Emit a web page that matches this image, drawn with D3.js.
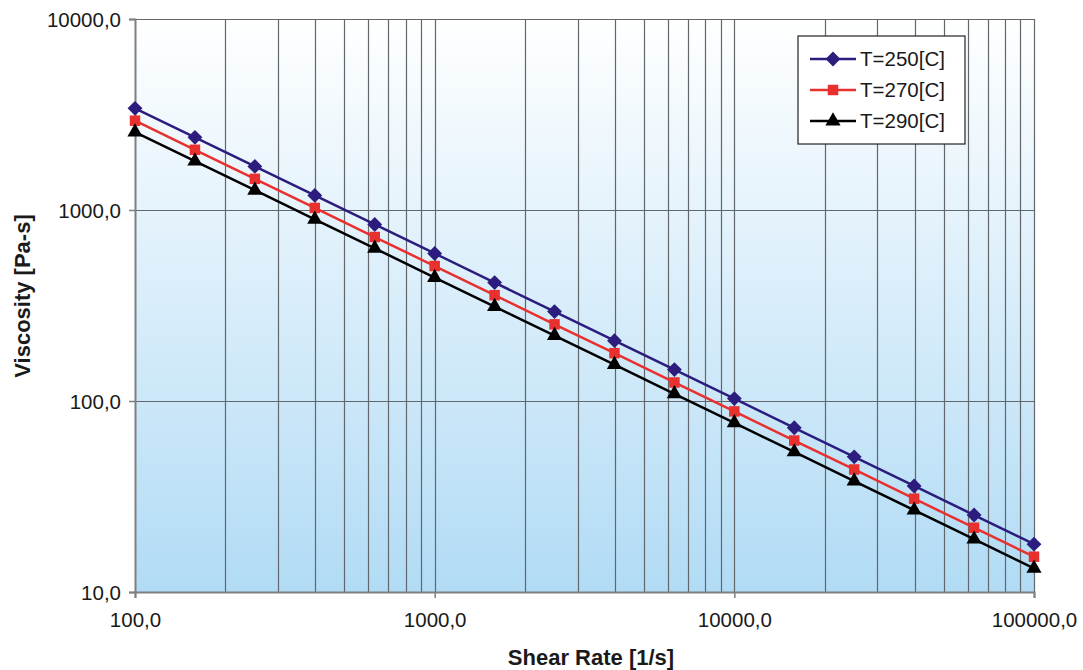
<!DOCTYPE html>
<html><head><meta charset="utf-8">
<script src="https://cdn.jsdelivr.net/npm/d3@7"></script>
<style>body{margin:0;background:#fff;}svg{display:block;font-family:Arial,"Liberation Sans",sans-serif;}</style>
</head><body>
<svg id="chart" width="1083" height="670"></svg>
<script>
const shearRates = [100, 158.5, 251.2, 398.1, 631.0, 1000, 1585, 2512, 3981, 6310, 10000, 15849, 25119, 39811, 63096, 100000];
const visc250 = [3408, 2401, 1692, 1192, 840, 592, 417, 294, 207, 146, 103, 72.4, 51.0, 35.9, 25.3, 17.8];
const visc270 = [2935, 2067, 1456, 1025, 722, 509, 358, 252, 178, 125, 88.2, 62.1, 43.8, 30.8, 21.7, 15.3];
const visc290 = [2559, 1802, 1269, 894, 630, 443, 312, 220, 155, 109, 76.8, 54.1, 38.1, 26.8, 18.9, 13.3];
const seriesNames = ["T=250[C]", "T=270[C]", "T=290[C]"];
const xTicks = [100, 1000, 10000, 100000];
const yTicks = [10, 100, 1000, 10000];
const xTitle = "Shear Rate [1/s]";
const yTitle = "Viscosity [Pa-s]";

const diamondWide = {
  draw(ctx, size) {
    const r = Math.sqrt(size / 2);
    ctx.moveTo(0, -r); ctx.lineTo(r, 0); ctx.lineTo(0, r); ctx.lineTo(-r, 0); ctx.closePath();
  }
};

const series = [
  {name: seriesNames[0], values: visc250, color: "#2b1c7e", symbol: diamondWide, size: 110},
  {name: seriesNames[1], values: visc270, color: "#e8302e", symbol: d3.symbolSquare, size: 110},
  {name: seriesNames[2], values: visc290, color: "#000000", symbol: d3.symbolTriangle, size: 100}
];

const svg = d3.select("#chart");
const L = 135, R = 1034, T = 19, B = 592;
const x = d3.scaleLog().domain([100, 100000]).range([L, R]);
const y = d3.scaleLog().domain([10, 10000]).range([B, T]);

const defs = svg.append("defs");
const grad = defs.append("linearGradient").attr("id", "bg").attr("x1", 0).attr("y1", 0).attr("x2", 0).attr("y2", 1);
grad.append("stop").attr("offset", "0%").attr("stop-color", "#ffffff");
grad.append("stop").attr("offset", "100%").attr("stop-color", "#b1dbf5");
svg.append("rect").attr("x", L).attr("y", T).attr("width", R - L).attr("height", B - T).attr("fill", "url(#bg)");

const xGrid = x.ticks().filter(v => v > 100);
svg.append("g").selectAll("line").data(xGrid).join("line")
  .attr("x1", d => Math.round(x(d)) + 0.5).attr("x2", d => Math.round(x(d)) + 0.5)
  .attr("y1", T).attr("y2", B)
  .attr("stroke", "#62676c").attr("stroke-width", 1.2);
svg.append("g").selectAll("line").data(yTicks.filter(v => v > 10)).join("line")
  .attr("x1", L).attr("x2", R)
  .attr("y1", d => Math.round(y(d)) + 0.5).attr("y2", d => Math.round(y(d)) + 0.5)
  .attr("stroke", "#62676c").attr("stroke-width", 1.2);

const fmt = v => d3.format(".1f")(v).replace(".", ",");

const xAxis = d3.axisBottom(x).tickValues(xTicks).tickFormat(fmt).tickSize(6).tickPadding(14);
const gx = svg.append("g").attr("transform", `translate(0,${B})`).call(xAxis);
const yAxis = d3.axisLeft(y).tickValues(yTicks).tickFormat(fmt).tickSize(6).tickPadding(8);
const gy = svg.append("g").attr("transform", `translate(${L},0)`).call(yAxis);
[gx, gy].forEach(g => {
  g.select(".domain").attr("stroke", "#7d7f82").attr("stroke-width", 2);
  g.selectAll(".tick line").attr("stroke", "#7d7f82").attr("stroke-width", 1.5);
  g.selectAll("text").attr("font-size", 20.5).attr("fill", "#1a1a1a").attr("font-family", "Arial, 'Liberation Sans', sans-serif");
});
gy.selectAll("text").attr("dy", "0.35em");

const line = d3.line().x((d, i) => x(shearRates[i])).y(d => y(d));
series.forEach(s => {
  svg.append("path").datum(s.values).attr("d", line)
    .attr("fill", "none").attr("stroke", s.color).attr("stroke-width", 2.5);
  svg.append("g").selectAll("path").data(s.values).join("path")
    .attr("d", d3.symbol().type(s.symbol).size(s.size))
    .attr("transform", (d, i) => `translate(${x(shearRates[i])},${y(d)})`)
    .attr("fill", s.color);
});

svg.append("text").attr("x", 591).attr("y", 665).attr("text-anchor", "middle")
  .attr("font-size", 22).attr("font-weight", "bold").attr("fill", "#1a1a1a").text(xTitle);
svg.append("text").attr("transform", "translate(30,296) rotate(-90)").attr("text-anchor", "middle")
  .attr("font-size", 22).attr("font-weight", "bold").attr("fill", "#1a1a1a").text(yTitle);

const lg = svg.append("g");
lg.append("rect").attr("x", 798).attr("y", 36).attr("width", 167).attr("height", 108)
  .attr("fill", "#fff").attr("stroke", "#222").attr("stroke-width", 1.2);
series.forEach((s, i) => {
  const ly = 59 + i * 31;
  lg.append("line").attr("x1", 810).attr("x2", 856).attr("y1", ly).attr("y2", ly)
    .attr("stroke", s.color).attr("stroke-width", 2.5);
  lg.append("path").attr("d", d3.symbol().type(s.symbol).size(s.size))
    .attr("transform", `translate(833,${ly})`).attr("fill", s.color);
  lg.append("text").attr("x", 860).attr("y", ly).attr("dy", "0.36em")
    .attr("font-size", 20.5).attr("fill", "#1a1a1a").text(s.name);
});
</script>
</body></html>
